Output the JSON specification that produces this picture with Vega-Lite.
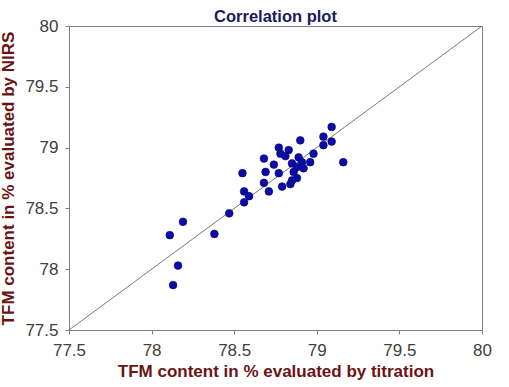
{
  "$schema": "https://vega.github.io/schema/vega-lite/v6.json",
  "autosize": "none",
  "width": 413,
  "height": 304,
  "padding": {"left": 69, "top": 26, "right": 27, "bottom": 57},
  "background": "white",
  "config": {
    "view": {"stroke": "#808080", "strokeWidth": 1},
    "font": "Liberation Sans",
    "axis": {
      "grid": false,
      "domainColor": "#808080",
      "tickColor": "#808080",
      "tickSize": 4,
      "labelFont": "Liberation Sans",
      "labelFontSize": 17,
      "labelColor": "#404040",
      "titleFont": "Liberation Sans",
      "titleFontSize": 17,
      "titleFontWeight": "bold",
      "titleColor": "#6b1414"
    }
  },
  "title": {
    "text": "Correlation plot",
    "font": "Liberation Sans",
    "fontSize": 16.5,
    "fontWeight": "bold",
    "color": "#1a1a5e",
    "offset": -8
  },
  "data": {
    "values": [
      {"titration": 79.09, "nirs": 79.17},
      {"titration": 79.04, "nirs": 79.09},
      {"titration": 79.09, "nirs": 79.05},
      {"titration": 79.04, "nirs": 79.02},
      {"titration": 78.90, "nirs": 79.06},
      {"titration": 79.16, "nirs": 78.88},
      {"titration": 78.77, "nirs": 79.00},
      {"titration": 78.78, "nirs": 78.95},
      {"titration": 78.83, "nirs": 78.98},
      {"titration": 78.81, "nirs": 78.93},
      {"titration": 78.68, "nirs": 78.91},
      {"titration": 78.98, "nirs": 78.95},
      {"titration": 78.89, "nirs": 78.92},
      {"titration": 78.91, "nirs": 78.88},
      {"titration": 78.96, "nirs": 78.88},
      {"titration": 78.85, "nirs": 78.87},
      {"titration": 78.88, "nirs": 78.84},
      {"titration": 78.92, "nirs": 78.83},
      {"titration": 78.74, "nirs": 78.86},
      {"titration": 78.86, "nirs": 78.80},
      {"titration": 78.69, "nirs": 78.80},
      {"titration": 78.77, "nirs": 78.79},
      {"titration": 78.55, "nirs": 78.79},
      {"titration": 78.88, "nirs": 78.75},
      {"titration": 78.85, "nirs": 78.73},
      {"titration": 78.84, "nirs": 78.70},
      {"titration": 78.68, "nirs": 78.71},
      {"titration": 78.79, "nirs": 78.68},
      {"titration": 78.71, "nirs": 78.64},
      {"titration": 78.56, "nirs": 78.64},
      {"titration": 78.59, "nirs": 78.60},
      {"titration": 78.56, "nirs": 78.55},
      {"titration": 78.47, "nirs": 78.46},
      {"titration": 78.19, "nirs": 78.39},
      {"titration": 78.11, "nirs": 78.28},
      {"titration": 78.38, "nirs": 78.29},
      {"titration": 78.16, "nirs": 78.03},
      {"titration": 78.13, "nirs": 77.87}
    ]
  },
  "layer": [
    {
      "data": {"values": [{"a": 77.5}, {"a": 80}]},
      "mark": {"type": "line", "color": "#404040", "strokeWidth": 0.7, "clip": true},
      "encoding": {
        "x": {"field": "a", "type": "quantitative"},
        "y": {"field": "a", "type": "quantitative"}
      }
    },
    {
      "mark": {"type": "circle", "size": 60, "color": "#0c0ca8", "opacity": 1, "stroke": "#06066a", "strokeWidth": 0.6},
      "encoding": {
        "x": {
          "field": "titration",
          "type": "quantitative",
          "title": "TFM content in % evaluated by titration",
          "scale": {"domain": [77.5, 80], "nice": false, "zero": false},
          "axis": {"values": [77.5, 78, 78.5, 79, 79.5, 80], "format": "~g", "labelPadding": 8, "titlePadding": 5, "labelFlush": false}
        },
        "y": {
          "field": "nirs",
          "type": "quantitative",
          "title": "TFM content in % evaluated by NIRS",
          "scale": {"domain": [77.5, 80], "nice": false, "zero": false},
          "axis": {"values": [77.5, 78, 78.5, 79, 79.5, 80], "format": "~g", "labelPadding": 7, "titlePadding": 7, "labelFlush": false}
        }
      }
    }
  ]
}
